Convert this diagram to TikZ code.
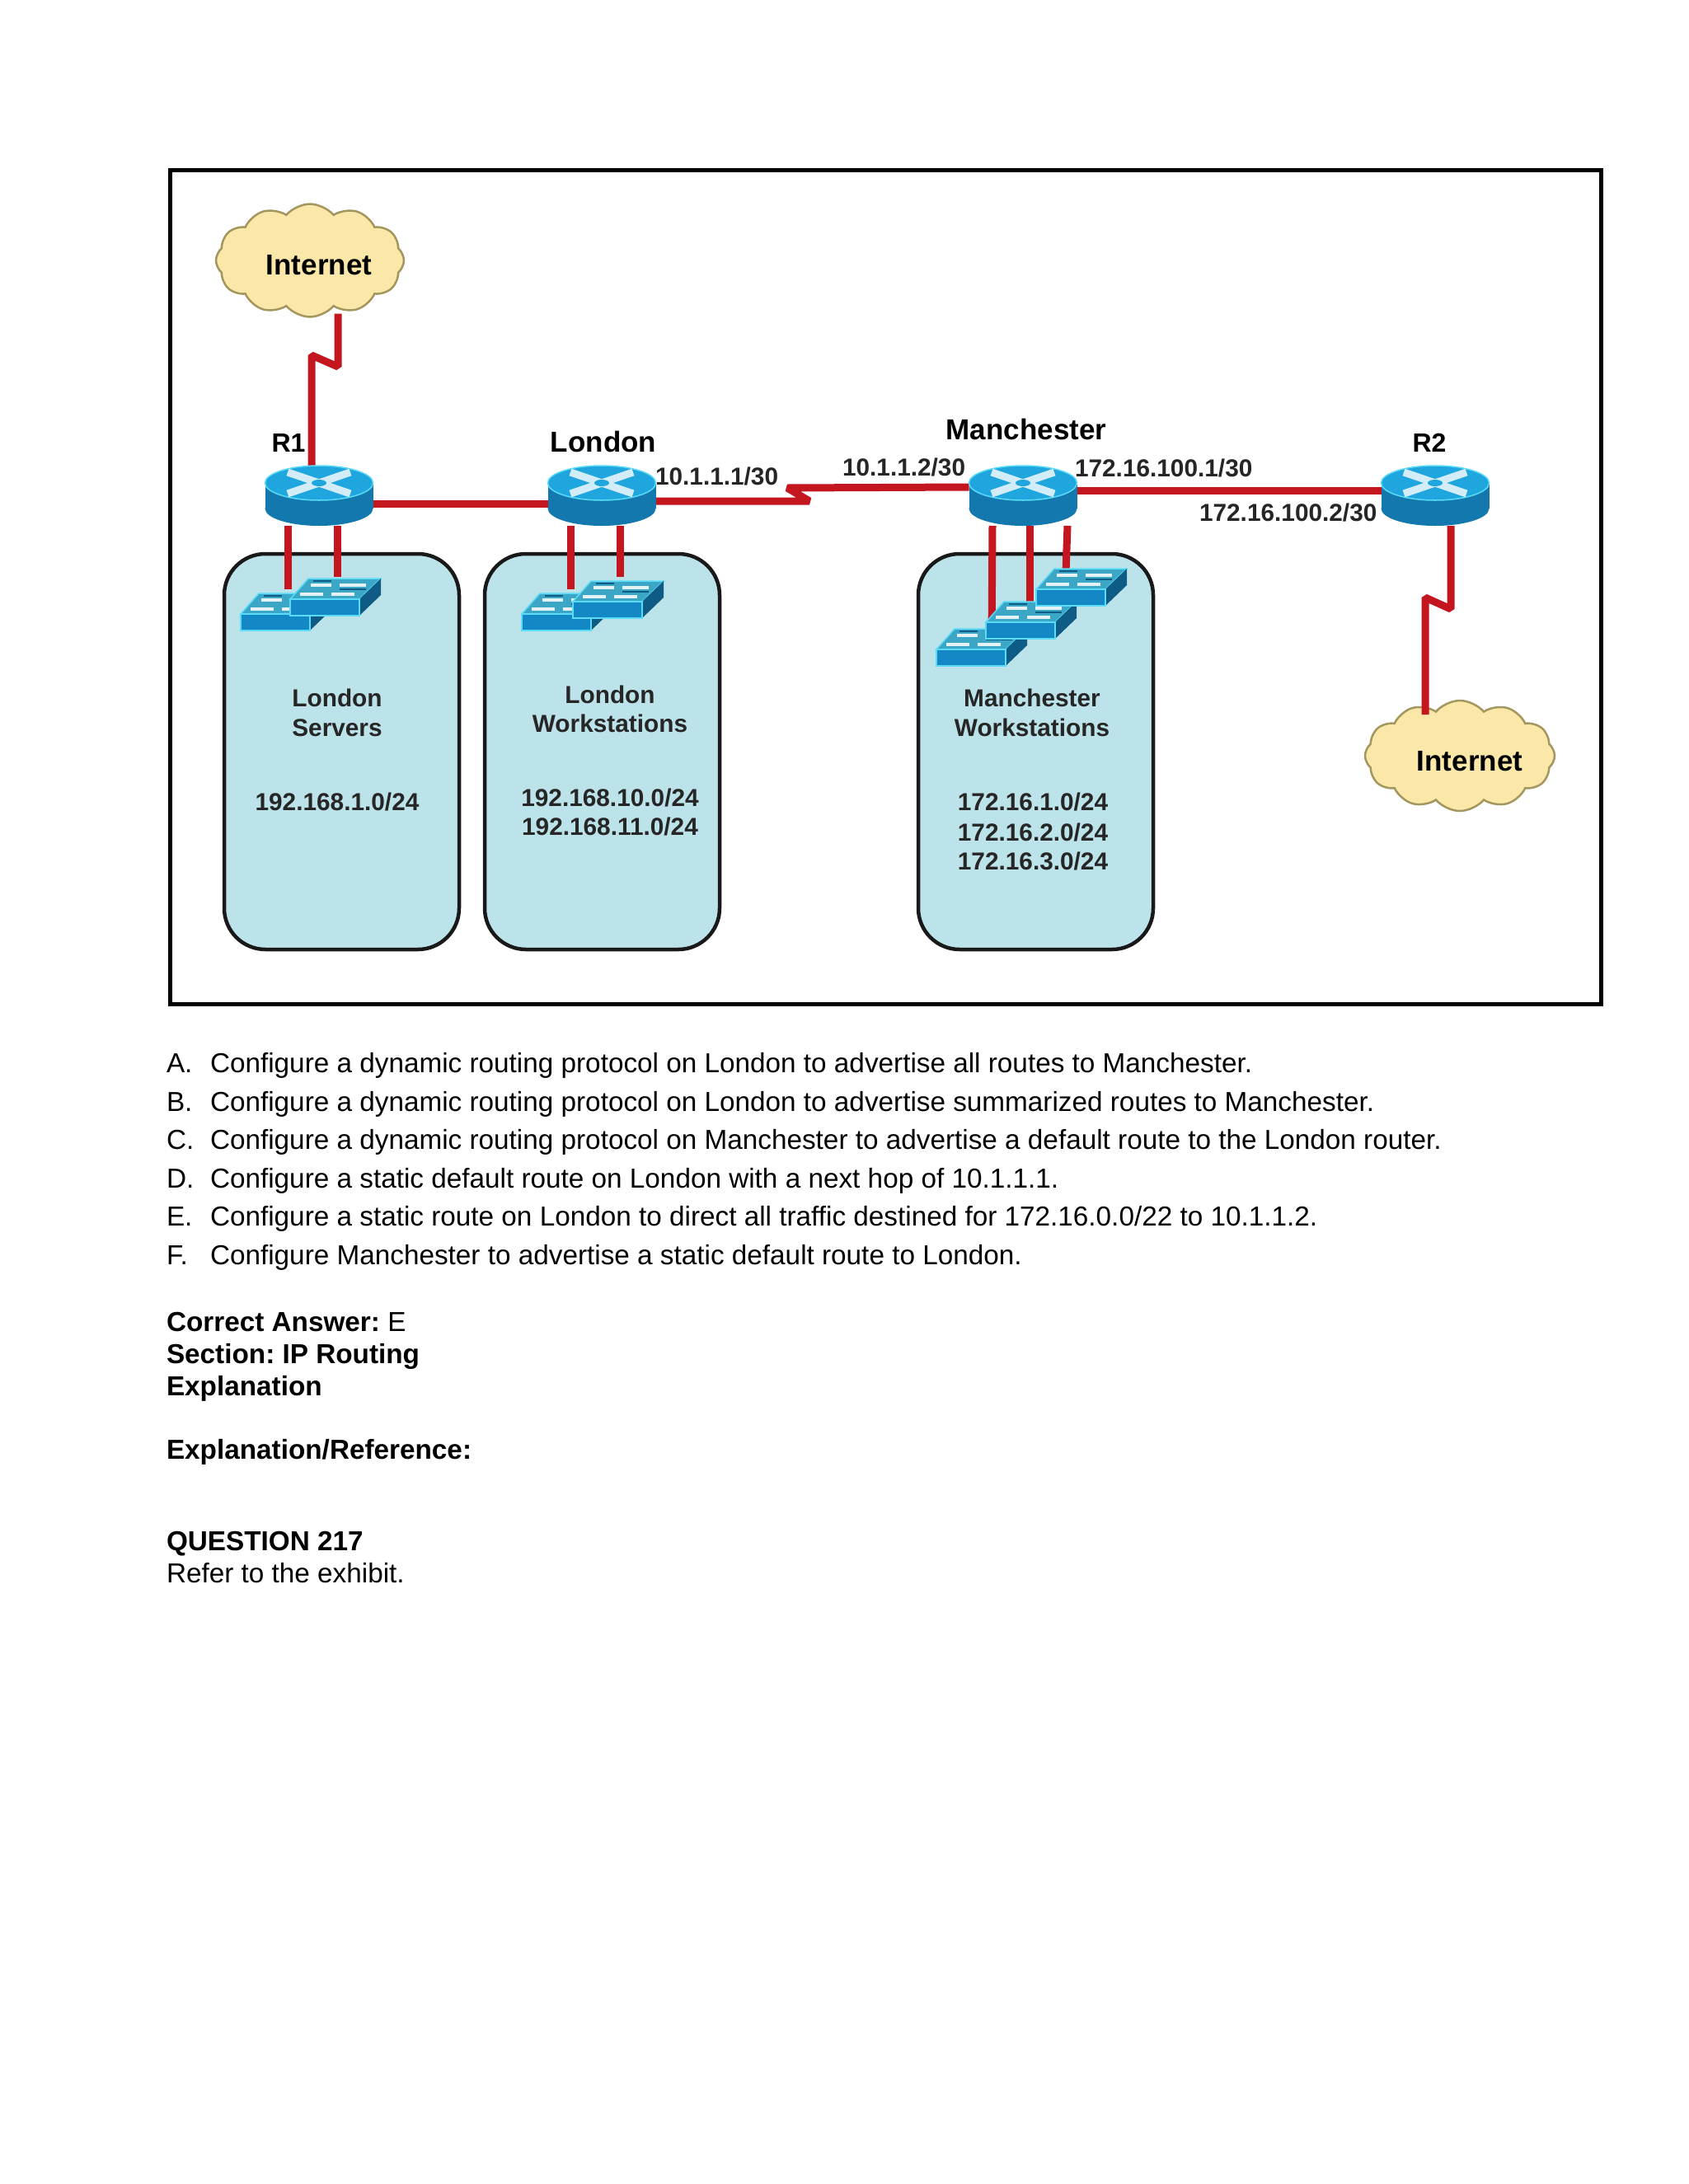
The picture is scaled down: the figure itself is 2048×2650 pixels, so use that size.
\documentclass[tikz,border=0pt]{standalone}
\usepackage{fontspec}
\setmainfont{Liberation Sans}
\usetikzlibrary{shapes.symbols}
\definecolor{linkred}{HTML}{C4161E}
\definecolor{panelblue}{HTML}{BDE3EA}
\definecolor{cloudfill}{HTML}{FBE8A9}
\definecolor{clouddraw}{HTML}{A3965F}
\definecolor{rtop}{HTML}{1FA6DE}
\definecolor{rside}{HTML}{1278AE}
\definecolor{swtop}{HTML}{3CA6C6}
\definecolor{swfront}{HTML}{1488C4}
\definecolor{swside}{HTML}{0E5C86}
\definecolor{swedge}{HTML}{5ADCF8}
\tikzset{
    rbox/.style={minimum width=131pt, minimum height=54pt, inner sep=0pt, outer sep=0pt},
    swbox/.style={minimum width=110pt, minimum height=45pt, inner sep=0pt, outer sep=0pt, anchor=north west},
    panel/.style={draw=black!90, line width=4.5pt, fill=panelblue, rounded corners=50pt, minimum width=285pt, minimum height=480pt, outer sep=0pt, anchor=north west},
    netcloud/.style={cloud, cloud puffs=12, cloud puff arc=100, draw=clouddraw, line width=2.5pt, fill=cloudfill, inner sep=0pt, outer sep=0pt},
    redlink/.style={draw=linkred, line width=9pt, line join=bevel},
    tag/.style={font=\bfseries\fontsize{29.8}{34}\selectfont, inner sep=0pt, outer sep=0pt, text=black!85},
    devlbl/.style={font=\bfseries\fontsize{35}{40}\selectfont, inner sep=0pt, outer sep=0pt, anchor=base},
    qtext/.style={font=\fontsize{33.3}{40}\selectfont, inner sep=0pt, outer sep=0pt, anchor=base west},
    qbold/.style={qtext, font=\bfseries\fontsize{33.3}{40}\selectfont},
    routerpic/.pic={
        \fill[rside] (-65.5,0) rectangle (65.5,31);
        \fill[rside] (0,31) ellipse [x radius=65.5, y radius=21];
        \fill[rtop, draw=swedge, line width=1.5pt] (0,0) ellipse [x radius=65.5, y radius=21];
        \draw[white!80!rtop, line width=9pt] (-38,-13) -- (38,13);
        \draw[white!80!rtop, line width=9pt] (-38,13) -- (38,-13);
        \fill[rtop] (0,0) ellipse [x radius=9, y radius=4];
    },
    switchpic/.pic={
        \fill[swtop, draw=swedge, line width=1.5pt] (0,25) -- (22,0) -- (110,0) -- (84,25) -- cycle;
        \fill[swside] (84,25) -- (110,0) -- (110,20) -- (84,45) -- cycle;
        \fill[swfront, draw=swedge, line width=1.5pt] (0,25) rectangle (84,45);
        \draw[white!85!swtop, line width=4.5pt] (12,19) -- (40,19) (50,19) -- (78,19) (25,8) -- (50,8) (60,8) -- (92,8);
        \draw[swside, line width=2.5pt] (28,3) -- (50,3) (60,13) -- (92,13);
    }
}
\begin{document}
\frenchspacing
\begin{tikzpicture}[x=1pt, y=-1pt]
    \useasboundingbox (0,0) rectangle (2048,2650);
    \draw[line width=5pt] (206,206) rectangle (1942,1218);
    % subnets
    \node[panel] (lonSrv) at (272,672) {};
    \node[panel] (lonWks) at (588,672) {};
    \node[panel] (manWks) at (1114,672) {};
    % devices, icons come after the links
    \node[netcloud, minimum width=228pt, minimum height=137pt] (netA) at (376,316) {};
    \node[netcloud, minimum width=230pt, minimum height=134pt] (netB) at (1771,917) {};
    \foreach \rname/\rx in {rOne/387, london/730, manch/1241, rTwo/1741}{
        \node[rbox] (\rname) at (\rx,611) {};
    }
    \foreach \sname/\sx/\sy in {swA/292/720, swB/352/702, swC/633/720, swD/695/705, swE/1136/763, swF/1196/730, swG/1257/690}{
        \node[swbox] (\sname) at (\sx,\sy) {};
    }
    \coordinate (zigA) at (378,431);
    \coordinate (zigB) at (410,445);
    \coordinate (zigC) at (982,608);
    \coordinate (zigD) at (955,592);
    \coordinate (zigE) at (1760,739);
    \coordinate (zigF) at (1729,725);
    % links
    \draw[redlink] ([xshift=-9pt]rOne.north) -- (zigA) -- (zigB) -- ([xshift=34pt,yshift=4pt]netA.south);
    \draw[redlink] (rOne.east) -- (london.west);
    \draw[redlink] ([yshift=3pt]london.east) -- (zigC) -- (zigD) -- ([yshift=20pt]manch.west);
    \draw[redlink] ([yshift=16pt]manch.east) -- ([yshift=16pt]rTwo.west);
    \draw[redlink] ([xshift=19pt]rTwo.south) -- (zigE) -- (zigF) -- ([xshift=-42pt,yshift=-17pt]netB.north);
    \draw[redlink] ([xshift=-38pt]rOne.south) -- ([xshift=2pt,yshift=5pt]swA.north);
    \draw[redlink] ([xshift=22pt]rOne.south) -- ([xshift=2pt,yshift=2pt]swB.north);
    \draw[redlink] ([xshift=-38pt]london.south) -- ([xshift=4pt,yshift=5pt]swC.north);
    \draw[redlink] ([xshift=22pt]london.south) -- ([xshift=2pt,yshift=5pt]swD.north);
    \draw[redlink] ([xshift=-37pt]manch.south) -- ([xshift=12pt,yshift=-18pt]swE.north);
    \draw[redlink] ([xshift=8pt]manch.south) -- ([xshift=-2pt,yshift=-5pt]swF.north);
    \draw[redlink] ([xshift=54pt]manch.south) -- ([xshift=-19pt,yshift=-5pt]swG.north);
    % icons
    \foreach \rname/\rx in {rOne/387, london/730, manch/1241, rTwo/1741}{
        \pic at (\rx,586) {routerpic};
    }
    \foreach \sname/\sx/\sy in {swA/292/720, swB/352/702, swC/633/720, swD/695/705, swE/1136/763, swF/1196/730, swG/1257/690}{
        \pic at (\sx,\sy) {switchpic};
    }
    % device names
    \node[devlbl] (lblNetA) at (387,333) {Internet};
    \node[devlbl] (lblNetB) at (1783,935) {Internet};
    \node[devlbl, font=\bfseries\fontsize{32}{36}\selectfont] (lblRone) at (350,548) {R1};
    \node[devlbl, font=\bfseries\fontsize{32}{36}\selectfont] (lblRtwo) at (1734,548) {R2};
    \node[devlbl] (lblLon) at (732,548) {London};
    \node[devlbl] (lblMan) at (1245,533) {Manchester};
    % addresses
    \foreach \id/\ax/\ay/\addr in {ipA/795/588/{10.1.1.1/30}, ipB/1022/577/{10.1.1.2/30}, ipC/1304/578/{172.16.100.1/30}, ipD/1455/632/{172.16.100.2/30}}{
        \node[tag, anchor=base west] (\id) at (\ax,\ay) {\addr};
    }
    % subnet texts
    \foreach \id/\ax/\ay/\txt in {sa/409/857/{London}, sb/409/893/{Servers}, sc/409/983/{192.168.1.0/24},
        sd/740/853/{London}, se/740/888/{Workstations}, sf/740/978/{192.168.10.0/24}, sg/740/1013/{192.168.11.0/24},
        sh/1252/857/{Manchester}, si/1252/893/{Workstations}, sj/1253/983/{172.16.1.0/24}, sk/1253/1020/{172.16.2.0/24}, sl/1253/1055/{172.16.3.0/24}}{
        \node[tag, anchor=base] (\id) at (\ax,\ay) {\txt};
    }
    % answers
    \foreach \ay/\ltr/\txt in {1301/A/{Configure a dynamic routing protocol on London to advertise all routes to Manchester.},
        1348/B/{Configure a dynamic routing protocol on London to advertise summarized routes to Manchester.},
        1394/C/{Configure a dynamic routing protocol on Manchester to advertise a default route to the London router.},
        1441/D/{Configure a static default route on London with a next hop of 10.1.1.1.},
        1487/E/{Configure a static route on London to direct all traffic destined for 172.16.0.0/22 to 10.1.1.2.},
        1534/F/{Configure Manchester to advertise a static default route to London.}}{
        \node[qtext] (ltr\ltr) at (202,\ay) {\ltr.};
        \node[qtext] (opt\ltr) at (255,\ay) {\txt};
    }
    \node[qbold] (ansLine) at (202,1615) {Correct Answer: \mdseries E};
    \node[qbold] (secLine) at (202,1654) {Section: IP Routing};
    \node[qbold] (expLine) at (202,1693) {Explanation};
    \node[qbold] (refLine) at (202,1770) {Explanation/Reference:};
    \node[qbold] (qLine) at (202,1881) {QUESTION 217};
    \node[qtext] (seeLine) at (202,1920) {Refer to the exhibit.};
\end{tikzpicture}
\end{document}
